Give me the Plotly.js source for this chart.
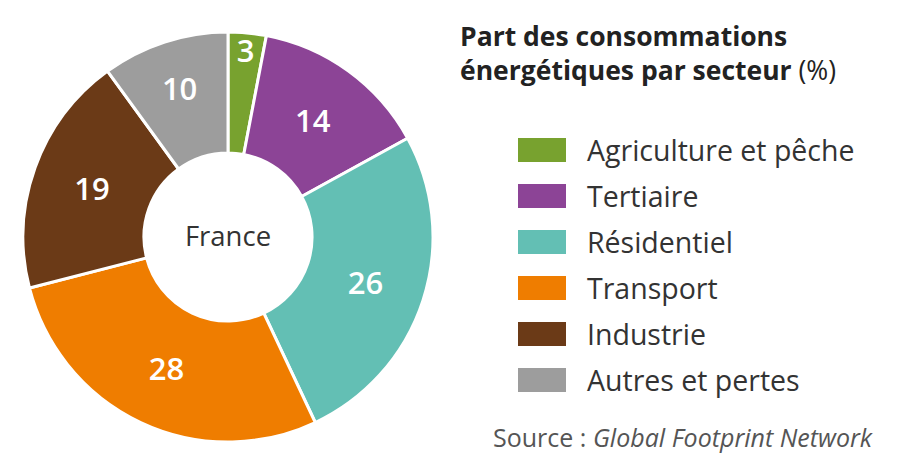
<!DOCTYPE html>
<html>
<head>
<meta charset="utf-8">
<script src="https://cdn.plot.ly/plotly-3.0.1.min.js"></script>
<style>
  html, body { margin: 0; padding: 0; background: #fff; }
  #chart { width: 907px; height: 470px; }
</style>
</head>
<body>
<div id="chart"></div>
<script>
var sectors = ['Agriculture et pêche', 'Tertiaire', 'Résidentiel', 'Transport', 'Industrie', 'Autres et pertes'];
var shares = [3, 14, 26, 28, 19, 10];
var sectorColors = ['#78a22f', '#8c4496', '#63bfb4', '#ef7d00', '#6b3a17', '#9d9d9d'];
var centerLabel = 'France';
var chartTitle = '<b>Part des consommations</b><br><b>énergétiques par secteur</b> (%)';
var sourceText = 'Source : <i>Global Footprint Network</i>';

var W = 907, H = 470;
var FONT = '"Open Sans", "DejaVu Sans", sans-serif';

// pixel helpers -> paper coords
function px(x) { return x / W; }
function py(y) { return 1 - y / H; }

var cx = 228, cy = 237, r = 205;

var data = [{
  type: 'pie',
  labels: sectors,
  values: shares,
  sort: false,
  direction: 'clockwise',
  rotation: 0,
  hole: 0.41,
  marker: { colors: sectorColors, line: { color: '#ffffff', width: 3 } },
  texttemplate: '%{value}',
  textposition: 'inside',
  insidetextorientation: 'horizontal',
  textfont: { family: FONT, size: 31, color: '#ffffff', weight: 600 },
  title: { text: centerLabel, position: 'middle center', font: { family: FONT, size: 27.5, color: '#333333' } },
  domain: { x: [px(cx - r), px(cx + r)], y: [py(cy + r), py(cy - r)] },
  hoverinfo: 'label+value',
  showlegend: false
}];

// legend built from the same arrays
var shapes = [];
var annotations = [];
var legendTop = 150, legendStep = 46;
for (var i = 0; i < sectors.length; i++) {
  var yc = legendTop + i * legendStep;
  shapes.push({
    type: 'rect', xref: 'paper', yref: 'paper',
    x0: px(518), x1: px(566), y0: py(yc + 12), y1: py(yc - 12),
    fillcolor: sectorColors[i], line: { width: 0 }
  });
  annotations.push({
    xref: 'paper', yref: 'paper', x: px(585), y: py(yc),
    xanchor: 'left', yanchor: 'middle', showarrow: false,
    text: sectors[i], font: { family: FONT, size: 28.5, color: '#333333' }
  });
}

annotations.push({
  xref: 'paper', yref: 'paper', x: px(458), y: py(16),
  xanchor: 'left', yanchor: 'top', align: 'left', showarrow: false,
  text: chartTitle, font: { family: FONT, size: 26.5, color: '#222222' }
});
annotations.push({
  xref: 'paper', yref: 'paper', x: px(875), y: py(437),
  xanchor: 'right', yanchor: 'middle', showarrow: false,
  text: sourceText, font: { family: FONT, size: 25, color: '#555555' }
});

var layout = {
  width: W,
  height: H,
  margin: { l: 0, r: 0, t: 0, b: 0 },
  paper_bgcolor: '#ffffff',
  plot_bgcolor: '#ffffff',
  showlegend: false,
  uniformtext: { mode: 'show', minsize: 31 },
  shapes: shapes,
  annotations: annotations
};

Plotly.newPlot('chart', data, layout, { displayModeBar: false, staticPlot: true });
</script>
</body>
</html>
